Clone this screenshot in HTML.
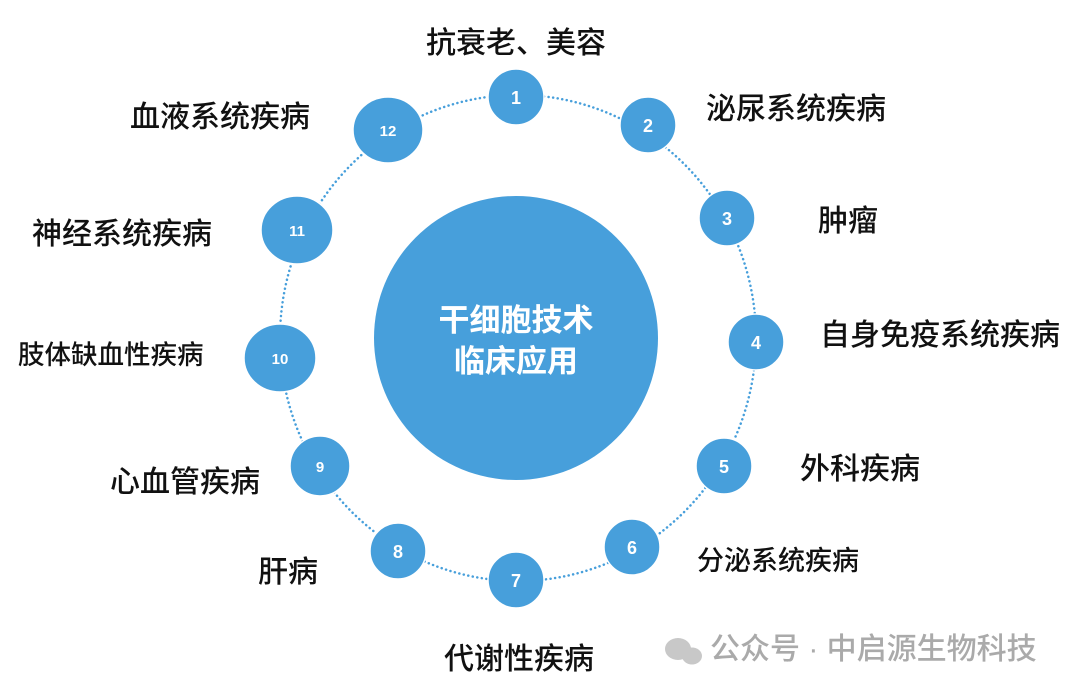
<!DOCTYPE html>
<html><head><meta charset="utf-8"><style>
body{margin:0;width:1080px;height:693px;background:#fff;overflow:hidden;position:relative;font-family:"Liberation Sans","Noto Sans CJK SC",sans-serif}
.l{position:absolute;font-size:30px;color:#111;line-height:1;white-space:nowrap;font-weight:500}
</style></head><body>
<svg width="1080" height="693" style="position:absolute;left:0;top:0">
<ellipse cx="518" cy="338" rx="238" ry="243" fill="none" stroke="#479fdb" stroke-width="2.5" stroke-dasharray="0.1 4.5" stroke-linecap="round"/>
<circle cx="516" cy="338" r="142" fill="#479fdb"/>
<text x="516" y="331" fill="#fff" font-size="31" text-anchor="middle" font-family="Noto Sans CJK SC" font-weight="bold">干细胞技术</text>
<text x="516" y="372" fill="#fff" font-size="31" text-anchor="middle" font-family="Noto Sans CJK SC" font-weight="bold">临床应用</text>
<g fill="#479fdb" stroke="#fff" stroke-width="1.5">
<circle cx="516" cy="97" r="28"/><circle cx="648" cy="125" r="28"/><circle cx="727" cy="218" r="28"/>
<circle cx="756" cy="342" r="28"/><circle cx="724" cy="466" r="28"/><circle cx="632" cy="547" r="28"/>
<circle cx="516" cy="580" r="28"/><circle cx="398" cy="551" r="28"/><circle cx="320" cy="466" r="30"/>
<ellipse cx="280" cy="358" rx="36" ry="34"/><ellipse cx="297" cy="230" rx="36" ry="34"/><ellipse cx="388" cy="130" rx="35" ry="33"/>
</g>
<g fill="#fff" font-family="Liberation Sans" font-weight="bold" text-anchor="middle" font-size="18">
<text x="516" y="104">1</text><text x="648" y="132">2</text><text x="727" y="225">3</text>
<text x="756" y="349">4</text><text x="724" y="473">5</text><text x="632" y="554">6</text>
<text x="516" y="587">7</text><text x="398" y="558">8</text><text x="320" y="472" font-size="15">9</text>
<text x="280" y="364" font-size="15">10</text><text x="297" y="236" font-size="15">11</text><text x="388" y="136" font-size="15">12</text>
</g>
<g fill="#c8c8c8"><ellipse cx="678" cy="649" rx="13" ry="11"/><ellipse cx="692" cy="656" rx="10" ry="8.5"/></g>
</svg>
<div class="l" style="left:426px;top:29px">抗衰老、美容</div>
<div class="l" style="left:706px;top:95px">泌尿系统疾病</div>
<div class="l" style="left:818px;top:207px">肿瘤</div>
<div class="l" style="left:820px;top:321px">自身免疫系统疾病</div>
<div class="l" style="left:800px;top:455px">外科疾病</div>
<div class="l" style="left:697px;top:548px;font-size:27px">分泌系统疾病</div>
<div class="l" style="left:444px;top:645px">代谢性疾病</div>
<div class="l" style="left:258px;top:558px">肝病</div>
<div class="l" style="left:110px;top:468px">心血管疾病</div>
<div class="l" style="left:18px;top:342px;font-size:26.5px">肢体缺血性疾病</div>
<div class="l" style="left:32px;top:220px">神经系统疾病</div>
<div class="l" style="left:130px;top:103px">血液系统疾病</div>
<div class="l" style="left:710px;top:635px;color:#aaa;font-size:30px">公众号 · 中启源生物科技</div>
</body></html>
